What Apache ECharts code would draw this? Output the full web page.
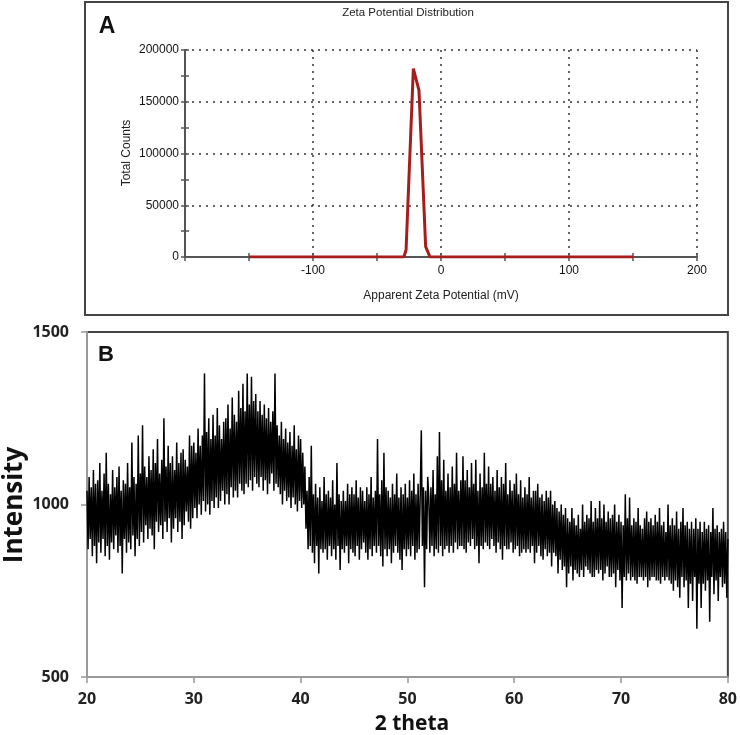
<!DOCTYPE html>
<html><head><meta charset="utf-8">
<script src="https://cdn.jsdelivr.net/npm/echarts@6/dist/echarts.min.js"></script>
<style>html,body{margin:0;padding:0;background:#fff}#c{width:740px;height:735px}</style>
</head><body><div id="c"></div>
<script>
// ---- Panel A: zeta potential distribution ----
const zetaPotential = [-150, -29, -27.3, -21.6, -17.2, -12, -8.6, 150];
const zetaCounts    = [0, 0, 6700, 182000, 161000, 10000, 0, 0];
const zetaXRange = [-200, 200];
const zetaYRange = [0, 200000];

// ---- Panel B: XRD pattern (2 theta 20..80, step 0.1) ----
const thetaStart = 20;
const thetaStep = 0.1;
const intensity = [
1040,870,1080,900,1050,850,1100,880,1060,830,
1070,890,1120,860,1040,900,1090,850,1150,880,
1060,840,1030,890,1100,870,1050,910,1080,860,
1110,880,1040,800,1070,900,1060,860,1120,890,
1050,870,1180,910,1080,850,1060,900,1200,880,
1090,920,1230,890,1110,940,1080,900,1140,930,
1100,910,1160,870,1120,950,1190,920,1090,940,
1130,900,1250,950,1110,920,1170,960,1120,890,
1140,930,1100,960,1180,920,1120,950,1150,900,
1160,940,1130,980,1110,950,1200,930,1170,960,
1180,990,1150,960,1220,1000,1170,970,1200,1010,
1380,980,1210,1000,1250,970,1190,1010,1260,990,
1200,1020,1280,990,1230,1010,1190,1040,1240,1000,
1250,1030,1290,1000,1220,1050,1310,1020,1260,1040,
1240,1020,1330,1060,1280,1040,1350,1030,1270,1060,
1380,1050,1290,1070,1370,1040,1300,1080,1320,1060,
1270,1050,1300,1080,1260,1040,1290,1070,1250,1030,
1280,1060,1240,1090,1270,1040,1380,1060,1230,1050,
1200,1030,1240,1000,1190,1040,1220,1010,1180,1020,
1210,990,1170,1020,1230,1000,1160,980,1200,1010,
1190,990,1150,1000,1110,930,1040,870,1080,880,
1170,860,1030,830,1060,880,1020,800,1050,870,
1010,860,1080,870,1030,840,1040,880,1020,850,
1070,870,1000,840,1120,880,1030,810,1010,870,
1040,860,1010,880,1060,830,1030,870,1050,860,
1030,850,1070,880,1020,840,1050,870,1040,890,
1010,860,1050,840,1030,870,1080,850,1020,880,
1040,860,1190,880,1030,850,1070,820,1150,870,
1050,850,1040,870,1020,830,1060,860,1030,880,
1090,860,1020,840,1050,810,1030,870,1060,850,
1020,870,1070,850,1040,880,1090,840,1030,860,
1060,870,1030,1215,880,1050,760,1040,870,1080,
1020,860,1050,880,1100,850,1030,870,1140,860,
1210,880,1070,850,1130,870,1040,880,1090,860,
1050,880,1110,860,1060,890,1150,870,1040,880,
1070,880,1140,870,1070,860,1100,890,1050,880,
1120,900,1060,870,1130,880,1040,830,1090,880,
1050,870,1150,890,1060,880,1110,870,1060,900,
1080,880,1040,860,1100,890,1050,870,1080,840,
1060,880,1120,870,1030,870,1070,890,1040,860,
1060,870,1090,880,1030,850,1070,860,1020,870,
1050,860,1030,870,1080,860,1020,880,1040,830,
1040,860,1060,880,1020,850,1030,840,1010,870,
1040,850,1020,860,1040,820,1000,860,1010,850,
990,800,980,840,1000,810,970,820,990,760,
960,800,950,820,990,780,960,810,940,800,
970,790,930,810,1000,790,950,820,970,810,
960,800,1010,790,950,790,990,810,960,800,
1010,810,960,780,1000,800,950,820,980,790,
960,790,970,800,1000,760,950,810,970,780,
950,700,940,790,1030,780,960,800,1020,780,
940,790,960,780,950,770,990,790,940,790,
930,780,960,790,980,760,950,780,960,790,
940,790,970,780,950,780,990,770,940,790,
950,780,920,790,1000,780,940,770,960,750,
940,780,980,760,930,730,950,790,990,760,
940,780,950,700,930,770,950,720,930,790,
960,640,930,770,950,700,920,770,950,750,
930,780,940,660,920,790,990,740,930,780,
940,720,920,790,930,760,950,770,920,730,
900
];
const xrdXRange = [20, 80];
const xrdYRange = [500, 1500];

const zetaData = zetaPotential.map((x, i) => [x, zetaCounts[i]]);
const xrdData = intensity.map((v, i) => [+(thetaStart + i * thetaStep).toFixed(1), v]);

const fA = 'Liberation Sans, Arial, sans-serif';
const fB = 'Open Sans, sans-serif';
const plain = v => String(v);

const chart = echarts.init(document.getElementById('c'), null, {renderer: 'canvas'});
chart.setOption({
  animation: false,
  backgroundColor: '#fff',
  grid: [
    {left: 185, top: 50, width: 512, height: 207, show: false},
    {left: 87, top: 332, width: 641, height: 345, show: true, borderColor: '#444', borderWidth: 2, backgroundColor: 'transparent'}
  ],
  xAxis: [
    {gridIndex: 0, type: 'value', min: zetaXRange[0], max: zetaXRange[1], interval: 100,
     axisLine: {show: true, onZero: false, lineStyle: {color: '#555', width: 2}},
     axisTick: {show: true, length: 4, lineStyle: {color: '#555', width: 1.5}},
     minorTick: {show: true, splitNumber: 2, length: 4, lineStyle: {color: '#555', width: 1.5}},
     splitLine: {show: true, lineStyle: {color: '#333', type: [2, 5], width: 1.5}},
     axisLabel: {fontFamily: fA, fontSize: 12, color: '#111', margin: 8,
       formatter: v => (v === zetaXRange[0] ? '' : String(v))}},
    {gridIndex: 0, type: 'value', min: zetaXRange[0], max: zetaXRange[1], interval: 100, position: 'bottom',
     axisLine: {show: false, onZero: false},
     axisTick: {show: true, inside: true, length: 4, lineStyle: {color: '#555', width: 1.5}},
     minorTick: {show: true, splitNumber: 2, length: 4, lineStyle: {color: '#555', width: 1.5}},
     splitLine: {show: false}, axisLabel: {show: false}},
    {gridIndex: 1, type: 'value', min: xrdXRange[0], max: xrdXRange[1], interval: 10,
     axisLine: {show: true, onZero: false, lineStyle: {color: '#999', width: 2}},
     axisTick: {show: true, length: 6, lineStyle: {color: '#999', width: 1.5}},
     splitLine: {show: false},
     axisLabel: {fontFamily: fB, fontSize: 16, fontWeight: 'bold', color: '#222', margin: 14, formatter: plain}}
  ],
  yAxis: [
    {gridIndex: 0, type: 'value', min: zetaYRange[0], max: zetaYRange[1], interval: 50000,
     axisLine: {show: true, onZero: false, lineStyle: {color: '#555', width: 2}},
     axisTick: {show: true, length: 4, lineStyle: {color: '#555', width: 1.5}},
     minorTick: {show: true, splitNumber: 2, length: 4, lineStyle: {color: '#555', width: 1.5}},
     splitLine: {show: true, lineStyle: {color: '#333', type: [2, 5], width: 1.5}},
     axisLabel: {fontFamily: fA, fontSize: 12, color: '#111', margin: 6, formatter: plain}},
    {gridIndex: 0, type: 'value', min: zetaYRange[0], max: zetaYRange[1], interval: 50000, position: 'left',
     axisLine: {show: false, onZero: false},
     axisTick: {show: true, inside: true, length: 4, lineStyle: {color: '#555', width: 1.5}},
     minorTick: {show: true, splitNumber: 2, length: 4, lineStyle: {color: '#555', width: 1.5}},
     splitLine: {show: false}, axisLabel: {show: false}},
    {gridIndex: 1, type: 'value', min: xrdYRange[0], max: xrdYRange[1], interval: 500,
     axisLine: {show: true, onZero: false, lineStyle: {color: '#999', width: 2}},
     axisTick: {show: true, length: 6, lineStyle: {color: '#999', width: 1.5}},
     splitLine: {show: false},
     axisLabel: {fontFamily: fB, fontSize: 16, fontWeight: 'bold', color: '#222', margin: 18, formatter: plain}}
  ],
  series: [
    {type: 'line', xAxisIndex: 0, yAxisIndex: 0, data: zetaData, showSymbol: false, symbol: 'none',
     lineStyle: {color: '#a51d1d', width: 3}, z: 5},
    {type: 'line', xAxisIndex: 2, yAxisIndex: 2, data: xrdData, showSymbol: false, symbol: 'none',
     sampling: null, lineStyle: {color: '#000', width: 1.5}, z: 5}
  ],
  graphic: [
    {type: 'rect', shape: {x: 85, y: 2, width: 643, height: 313}, style: {fill: 'none', stroke: '#444', lineWidth: 2}, z: 0},
    {type: 'text', x: 408, y: 13, style: {text: 'Zeta Potential Distribution', font: '11.5px ' + fA, fill: '#222', align: 'center', verticalAlign: 'middle'}},
    {type: 'text', x: 107, y: 27, style: {text: 'A', font: 'bold 23px ' + fA, fill: '#111', align: 'center', verticalAlign: 'middle'}},
    {type: 'text', x: 127, y: 153, rotation: Math.PI / 2, style: {text: 'Total Counts', font: '12px ' + fA, fill: '#222', align: 'center', verticalAlign: 'middle'}},
    {type: 'text', x: 441, y: 296, style: {text: 'Apparent Zeta Potential (mV)', font: '12px ' + fA, fill: '#222', align: 'center', verticalAlign: 'middle'}},
    {type: 'text', x: 106, y: 355, style: {text: 'B', font: 'bold 22px ' + fA, fill: '#111', align: 'center', verticalAlign: 'middle'}},
    {type: 'text', x: 15, y: 505, rotation: Math.PI / 2, style: {text: 'Intensity', font: 'bold 26px ' + fB, fill: '#111', align: 'center', verticalAlign: 'middle'}},
    {type: 'text', x: 412, y: 724, style: {text: '2 theta', font: 'bold 21px ' + fB, fill: '#111', align: 'center', verticalAlign: 'middle'}}
  ]
});
</script>
</body></html>
